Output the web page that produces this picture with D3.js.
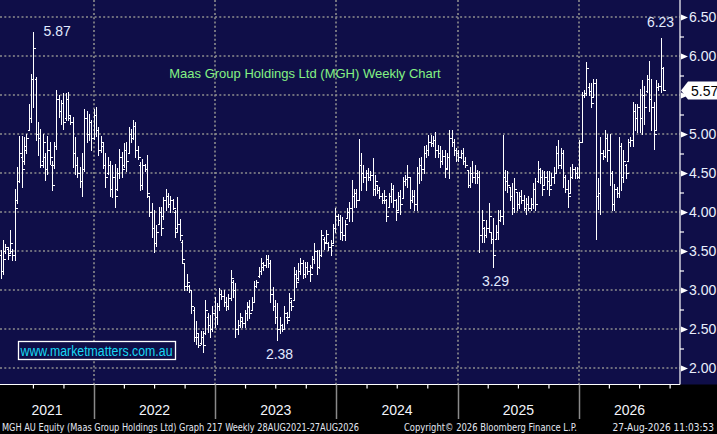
<!DOCTYPE html>
<html>
<head>
<meta charset="utf-8">
<script src="https://cdn.jsdelivr.net/npm/d3@7"></script>
<style>
  html, body { margin: 0; padding: 0; background: #000; }
  svg { display: block; }
</style>
</head>
<body>
<svg id="chart" width="717" height="434"></svg>
<script>
const firstWeek = new Date(2021, 2, 26);

// weekly bars, [open, high, low, close]
const bars2021 = [
  [3.45,3.51,3.15,3.25],[3.25,3.64,3.21,3.40],[3.50,3.59,3.47,3.55],[3.52,3.55,3.40,3.45],[3.48,3.77,3.47,3.60],
  [3.50,3.53,3.38,3.45],[3.45,4.30,3.38,4.05],[4.15,4.58,4.11,4.40],[4.40,4.98,4.38,4.75],[4.70,4.98,4.32,4.55],
  [4.65,4.96,4.62,4.85],[4.80,5.00,4.75,4.95],[5.05,5.39,5.05,5.20],[5.20,5.77,5.15,5.70],[5.70,6.31,5.35,6.10],
  [5.70,5.73,4.92,5.00],[5.00,5.15,4.73,4.95],[4.95,5.07,4.58,4.60],[4.65,5.00,4.58,4.90],[4.70,4.75,4.41,4.55],
  [4.55,4.98,4.49,4.80],[4.80,4.90,4.62,4.70],[4.60,4.66,4.28,4.35],[4.60,4.90,4.56,4.85],[4.85,5.56,4.81,5.45],
  [5.45,5.50,5.22,5.30],[5.30,5.43,5.13,5.40],[5.40,5.52,5.07,5.15],[5.20,5.52,5.18,5.45],[5.45,5.54,5.18,5.25],
  [5.20,5.24,5.13,5.15],[5.15,5.22,4.58,4.75],[4.75,4.96,4.49,4.60],[4.60,4.70,4.45,4.50],[4.50,4.58,4.32,4.40],
  [4.40,4.75,4.21,4.55],[4.55,5.32,4.53,5.20],[5.20,5.30,4.90,5.00],[5.00,5.26,4.92,5.15],[5.15,5.18,4.79,4.95]
];
const bars2022 = [
  [4.95,5.32,4.94,5.25],[5.25,5.35,4.98,5.05],[5.05,5.09,4.73,4.80],[4.80,4.98,4.77,4.90],[4.85,4.90,4.56,4.60],
  [4.60,4.75,4.32,4.45],[4.50,4.70,4.49,4.60],[4.60,4.66,4.21,4.30],[4.30,4.60,4.19,4.45],[4.45,4.62,4.06,4.20],
  [4.30,4.56,4.28,4.50],[4.50,4.81,4.43,4.70],[4.70,4.77,4.45,4.55],[4.60,4.88,4.58,4.80],[4.80,4.90,4.53,4.65],
  [4.75,5.09,4.75,5.00],[5.00,5.07,4.90,4.95],[4.95,5.18,4.94,5.10],[5.10,5.15,4.71,4.80],[4.80,4.85,4.68,4.70],
  [4.60,4.64,4.28,4.35],[4.35,4.68,4.30,4.60],[4.60,4.62,4.53,4.55],[4.55,4.73,4.19,4.25],[4.20,4.21,3.95,4.00],
  [4.00,4.11,3.68,3.80],[3.80,4.02,3.49,3.60],[3.60,3.83,3.57,3.75],[3.85,4.06,3.85,4.00],[4.00,4.06,3.70,3.80],
  [3.95,4.19,3.91,4.15],[4.15,4.30,4.02,4.20],[4.20,4.24,4.06,4.10],[4.10,4.21,4.00,4.15],[4.15,4.17,4.04,4.05],
  [4.00,4.02,3.68,3.75],[3.80,4.19,3.75,3.85],[3.85,3.91,3.64,3.70],[3.62,3.64,3.34,3.40],[3.34,3.34,3.00,3.05],
  [3.05,3.21,3.00,3.10],[3.05,3.06,2.98,3.00],[3.00,3.00,2.70,2.80],[2.75,2.78,2.35,2.40],[2.40,2.60,2.31,2.45],
  [2.40,2.44,2.27,2.30],[2.32,2.48,2.31,2.40],[2.40,2.48,2.21,2.30],[2.45,2.87,2.44,2.75],[2.65,2.70,2.46,2.55],
  [2.55,2.68,2.40,2.50],[2.50,2.80,2.48,2.70],[2.70,2.91,2.53,2.65]
];
const bars2023 = [
  [2.65,2.83,2.57,2.80],[2.80,3.02,2.74,2.95],[2.95,3.00,2.89,2.92],[2.92,3.00,2.79,2.85],[2.85,2.91,2.74,2.80],
  [2.80,2.95,2.76,2.90],[2.90,3.26,2.87,3.15],[3.10,3.13,2.91,3.00],[3.00,3.09,2.40,2.50],[2.50,2.62,2.44,2.55],
  [2.55,2.70,2.53,2.65],[2.60,2.66,2.53,2.58],[2.58,2.74,2.53,2.70],[2.70,2.85,2.62,2.80],[2.78,2.87,2.64,2.70],
  [2.75,2.91,2.74,2.85],[2.85,3.11,2.85,3.05],[3.05,3.13,3.04,3.10],[3.18,3.30,3.17,3.25],[3.25,3.41,3.21,3.35],
  [3.30,3.36,3.26,3.32],[3.32,3.45,3.30,3.40],[3.40,3.45,3.30,3.35],[3.35,3.38,2.85,2.95],[2.95,3.04,2.74,2.80],
  [2.80,2.87,2.58,2.65],[2.65,2.83,2.36,2.50],[2.50,2.66,2.45,2.55],[2.55,2.57,2.47,2.50],[2.50,2.79,2.50,2.70],
  [2.65,2.72,2.58,2.62],[2.66,2.96,2.66,2.90],[2.85,2.87,2.74,2.80],[2.87,3.30,2.87,3.20],[3.20,3.26,3.04,3.10],
  [3.15,3.34,3.13,3.25],[3.25,3.41,3.21,3.35],[3.35,3.38,3.15,3.20],[3.20,3.36,3.17,3.30],[3.30,3.36,3.21,3.25],
  [3.25,3.32,3.11,3.20],[3.30,3.43,3.28,3.40],[3.40,3.60,3.34,3.50],[3.50,3.51,3.21,3.30],[3.30,3.51,3.28,3.45],
  [3.45,3.77,3.43,3.70],[3.65,3.68,3.53,3.60],[3.62,3.77,3.60,3.72],[3.60,3.62,3.51,3.55],[3.55,3.64,3.45,3.58],
  [3.60,3.85,3.60,3.80],[3.80,4.05,3.75,3.95]
];
const bars2024 = [
  [3.95,3.98,3.83,3.90],[3.90,3.96,3.66,3.75],[3.75,3.94,3.64,3.70],[3.70,3.90,3.64,3.85],[3.92,4.05,3.92,4.00],
  [4.00,4.13,3.88,4.05],[4.05,4.41,3.88,4.20],[4.20,4.30,4.07,4.25],[4.25,4.30,4.07,4.15],[4.15,4.94,4.15,4.60],
  [4.60,4.75,4.28,4.50],[4.50,4.60,4.39,4.45],[4.45,4.54,4.28,4.50],[4.50,4.56,4.41,4.45],[4.45,4.52,4.41,4.48],
  [4.48,4.69,4.22,4.30],[4.30,4.47,4.22,4.40],[4.35,4.35,4.24,4.28],[4.28,4.32,4.18,4.20],[4.20,4.24,4.11,4.15],
  [4.15,4.28,4.11,4.20],[4.15,4.17,3.88,3.95],[4.07,4.24,4.07,4.20],[4.20,4.37,4.13,4.30],[4.30,4.35,4.07,4.15],
  [4.15,4.17,3.90,4.00],[4.03,4.26,4.03,4.20],[4.20,4.28,3.98,4.10],[4.18,4.45,4.18,4.40],[4.40,4.47,4.35,4.42],
  [4.42,4.60,4.32,4.45],[4.45,4.45,4.05,4.15],[4.15,4.28,4.13,4.20],[4.20,4.28,4.03,4.10],[4.10,4.58,4.03,4.50],
  [4.50,4.69,4.37,4.60],[4.60,4.71,4.41,4.55],[4.55,4.84,4.50,4.75],[4.75,4.86,4.71,4.80],[4.80,4.99,4.73,4.90],
  [4.90,4.99,4.84,4.88],[4.88,4.97,4.84,4.92],[4.92,5.03,4.71,4.80],[4.80,4.86,4.71,4.75],[4.75,4.84,4.58,4.65],
  [4.65,4.79,4.62,4.72],[4.72,4.79,4.45,4.55],[4.56,4.75,4.56,4.70],[4.70,5.05,4.43,4.95],[4.95,5.05,4.84,4.90],
  [4.90,4.94,4.73,4.80],[4.80,4.82,4.65,4.75],[4.75,4.80,4.65,4.70]
];
const bars2025 = [
  [4.70,4.79,4.69,4.75],[4.75,4.82,4.62,4.65],[4.65,4.71,4.58,4.60],[4.54,4.54,4.32,4.35],[4.35,4.58,4.32,4.50],
  [4.50,4.65,4.39,4.45],[4.45,4.60,4.37,4.50],[4.50,4.54,4.37,4.45],[4.45,4.52,3.49,3.70],[3.70,4.03,3.62,3.90],
  [3.80,3.81,3.62,3.70],[3.70,3.90,3.68,3.80],[3.80,4.11,3.75,3.95],[3.75,3.75,3.60,3.65],[3.65,3.92,3.30,3.45],
  [3.66,3.83,3.66,3.75],[3.75,4.03,3.66,3.90],[3.90,4.03,3.88,3.95],[3.95,4.99,3.85,4.45],[4.45,4.54,4.28,4.40],
  [4.40,4.52,4.26,4.35],[4.32,4.32,4.15,4.20],[4.20,4.37,3.98,4.05],[4.05,4.43,4.00,4.30],[4.26,4.26,4.03,4.10],
  [4.10,4.26,4.05,4.20],[4.20,4.28,4.11,4.15],[4.15,4.22,4.03,4.05],[4.05,4.18,3.98,4.10],[4.10,4.20,4.03,4.05],
  [4.05,4.18,4.03,4.10],[4.10,4.37,4.05,4.30],[4.30,4.43,4.03,4.10],[4.40,4.65,4.39,4.55],[4.55,4.56,4.37,4.45],
  [4.45,4.54,4.22,4.30],[4.35,4.52,4.35,4.45],[4.45,4.52,4.30,4.40],[4.40,4.52,4.22,4.30],[4.35,4.50,4.35,4.45],
  [4.45,4.58,4.37,4.50],[4.50,4.84,4.50,4.75],[4.75,4.92,4.56,4.60],[4.60,4.82,4.56,4.75],[4.75,4.79,4.32,4.45],
  [4.45,4.47,4.26,4.30],[4.30,4.41,4.07,4.20],[4.25,4.58,4.24,4.45],[4.45,4.62,4.43,4.55],[4.55,4.58,4.43,4.50],
  [4.50,4.58,4.43,4.45],[4.45,4.92,4.43,4.90]
];
const bars2026 = [
  [4.90,5.54,4.90,5.50],[5.50,5.56,5.47,5.52],[5.52,5.92,5.50,5.85],[5.60,5.65,5.50,5.55],[5.55,5.65,5.35,5.40],
  [5.47,5.71,5.47,5.65],[5.65,5.71,3.66,4.20],[4.20,4.43,4.04,4.25],[4.25,4.96,3.98,4.75],[4.75,4.79,4.68,4.72],
  [4.72,5.05,4.71,4.95],[4.95,5.00,4.66,4.80],[4.80,5.00,4.34,4.50],[4.50,4.53,4.02,4.10],[4.10,4.36,4.02,4.30],
  [4.30,4.32,4.19,4.25],[4.25,4.96,4.19,4.85],[4.85,4.88,4.28,4.45],[4.45,4.79,4.38,4.65],[4.60,4.62,4.43,4.50],
  [4.66,4.94,4.66,4.90],[4.90,4.96,4.85,4.92],[4.92,5.41,4.85,5.30],[5.30,5.39,5.05,5.20],[5.20,5.39,5.03,5.35],
  [5.35,5.58,5.03,5.20],[5.20,5.69,5.00,5.50],[5.50,5.62,5.13,5.35],[5.55,5.75,5.54,5.70],[5.70,5.94,5.30,5.45],
  [5.45,5.71,5.05,5.35],[5.35,5.41,4.81,5.00],[5.05,5.69,5.05,5.60],[5.60,5.65,5.56,5.62],[5.62,6.23,5.54,5.85],
  [5.85,5.86,5.57,5.57]
];

const yTicks = [2.0, 2.5, 3.0, 3.5, 4.0, 4.5, 5.0, 5.5, 6.0, 6.5];
const yMinorTicks = [2.25, 2.75, 3.25, 3.75, 4.25, 4.75, 5.25, 5.75, 6.25];
const years = [2021, 2022, 2023, 2024, 2025, 2026];

// [label, week index, 'high' | 'low']
const callouts = [
  ['5.87', 14, 'high'],
  ['2.38', 119, 'low'],
  ['3.29', 212, 'low'],
  ['6.23', 284, 'high']
];

const title = 'Maas Group Holdings Ltd (MGH) Weekly Chart';
const watermark = 'www.marketmatters.com.au';
const footer = [
  'MGH AU Equity (Maas Group Holdings Ltd) Graph 217 Weekly 28AUG2021-27AUG2026',
  'Copyright\u00a9 2026 Bloomberg Finance L.P.',
  '27-Aug-2026 11:03:53'
];

const W = 717, H = 434;
const plotRight = 680, plotBottom = 384.5;
const navy = '#0f0e48';
const gridColor = '#8d8d8d';
const sans = 'Liberation Sans, Arial, sans-serif';
const narrow = 'Liberation Sans Narrow, DejaVu Sans Condensed, sans-serif';

const bars = [].concat(bars2021, bars2022, bars2023, bars2024, bars2025, bars2026)
  .map((d, i) => ({
    date: d3.timeDay.offset(firstWeek, 7 * i),
    open: d[0], high: d[1], low: d[2], close: d[3]
  }));
const last = bars[bars.length - 1];

const x = d3.scaleTime()
  .domain([new Date(2022, 0, 1), new Date(2026, 0, 1)])
  .range([94, 579]);
const y = d3.scaleLinear().domain([2, 6.5]).range([368, 17]);

const svg = d3.select('#chart');

svg.append('rect').attr('width', W).attr('height', H).attr('fill', '#000');
svg.append('rect').attr('width', W).attr('height', plotBottom).attr('fill', navy);

// grid
const grid = svg.append('g')
  .attr('stroke', gridColor)
  .attr('stroke-width', 1.6)
  .attr('stroke-dasharray', '2,2.3');

grid.selectAll('line.h').data(yTicks).enter().append('line')
  .attr('class', 'h')
  .attr('x1', 0).attr('x2', plotRight)
  .attr('y1', d => y(d)).attr('y2', d => y(d));

const yearStarts = years.slice(1).map(yr => new Date(yr, 0, 1));
grid.selectAll('line.v').data(yearStarts).enter().append('line')
  .attr('class', 'v')
  .attr('x1', d => Math.round(x(d))).attr('x2', d => Math.round(x(d)))
  .attr('y1', 0).attr('y2', plotBottom);

// price bars
const px = d => Math.round(x(d.date)) + 0.5;
const py = v => Math.round(y(v)) + 0.5;

svg.append('g')
  .attr('stroke', '#fff')
  .attr('stroke-width', 1)
  .attr('fill', 'none')
  .attr('shape-rendering', 'crispEdges')
  .selectAll('path')
  .data(bars)
  .enter()
  .append('path')
  .attr('d', d => {
    const cx = px(d);
    return `M${cx},${py(d.high) - 0.5}V${py(d.low) + 0.5}` +
      `M${cx - 2},${py(d.open)}H${cx}` +
      `M${cx},${py(d.close)}H${cx + 2}`;
  });

// frame
svg.append('line')
  .attr('x1', plotRight).attr('x2', plotRight)
  .attr('y1', 0).attr('y2', plotBottom)
  .attr('stroke', '#fff').attr('stroke-width', 1.2);
svg.append('line')
  .attr('x1', 0).attr('x2', plotRight)
  .attr('y1', plotBottom).attr('y2', plotBottom)
  .attr('stroke', '#fff').attr('stroke-width', 1.2);

// right axis; the label under the last-price tag stays hidden
const yAxis = svg.append('g')
  .attr('transform', `translate(${plotRight},0)`)
  .call(d3.axisRight(y).tickValues(yTicks).tickSize(0).tickPadding(9)
    .tickFormat(d => Math.abs(d - last.close) < 0.15 ? '' : d3.format('.2f')(d)));
yAxis.select('.domain').remove();
yAxis.selectAll('text')
  .attr('fill', '#e9eefc')
  .attr('font-family', sans)
  .attr('font-size', 14);
yAxis.selectAll('.tick').append('path')
  .attr('d', 'M1,-3L8,0L1,3Z')
  .attr('fill', '#fff');

const yMinor = svg.append('g')
  .attr('transform', `translate(${plotRight},0)`)
  .call(d3.axisRight(y).tickValues(yMinorTicks).tickSize(4).tickFormat(''));
yMinor.select('.domain').remove();
yMinor.selectAll('line').attr('stroke', '#fff').attr('stroke-width', 1.2);

// last price tag
const tagY = y(last.close) + 1;
const tag = svg.append('g').attr('transform', `translate(0,${tagY})`);
tag.append('path')
  .attr('d', 'M681,0L688,-9H717V9H688Z')
  .attr('fill', '#fff');
tag.append('text')
  .attr('x', 691).attr('y', 5)
  .attr('fill', '#000')
  .attr('font-family', sans)
  .attr('font-size', 14)
  .text(last.close.toFixed(2));

// bottom axis
const quarterTicks = d3.timeMonth.every(3).range(new Date(2021, 3, 1), new Date(2026, 9, 2))
  .filter(d => d.getMonth() !== 0 && x(d) > 4 && x(d) < plotRight - 4);
const xAxis = svg.append('g')
  .attr('transform', `translate(0,${plotBottom})`)
  .call(d3.axisBottom(x).tickValues(quarterTicks).tickSize(4).tickFormat(''));
xAxis.select('.domain').remove();
xAxis.selectAll('line').attr('stroke', '#fff').attr('stroke-width', 1.2);

svg.append('g').selectAll('line').data(yearStarts).enter().append('line')
  .attr('x1', d => Math.round(x(d)) + 0.5).attr('x2', d => Math.round(x(d)) + 0.5)
  .attr('y1', plotBottom).attr('y2', 419)
  .attr('stroke', '#8a8a8a').attr('stroke-width', 1.5);

svg.append('g').selectAll('text').data(years).enter().append('text')
  .attr('x', yr => {
    const a = Math.max(0, x(new Date(yr, 0, 1)));
    const b = Math.min(plotRight, x(new Date(yr + 1, 0, 1)));
    return (a + b) / 2;
  })
  .attr('y', 415)
  .attr('text-anchor', 'middle')
  .attr('fill', '#f2f4fa')
  .attr('font-family', sans)
  .attr('font-size', 14)
  .text(d => d);

// footer: [anchor x, width, text-anchor]
const footerPos = [[2, 357, 'start'], [404, 173, 'start'], [714, 0, 'end']];
svg.append('g').selectAll('text').data(footer).enter().append('text')
  .attr('x', (d, i) => footerPos[i][0])
  .attr('y', 430.5)
  .attr('text-anchor', (d, i) => footerPos[i][2])
  .attr('textLength', (d, i) => footerPos[i][1] || null)
  .attr('lengthAdjust', (d, i) => footerPos[i][1] ? 'spacingAndGlyphs' : null)
  .attr('fill', '#e4e8f2')
  .attr('font-family', narrow)
  .attr('font-size', 10)
  .text(d => d);

// title
svg.append('text')
  .attr('x', 305).attr('y', 78)
  .attr('text-anchor', 'middle')
  .attr('fill', '#84f284')
  .attr('font-family', sans)
  .attr('font-size', 13)
  .text(title);

// high / low callouts
const calloutOffset = { high: [-1, -11], low: [2, 19] };
svg.append('g').selectAll('text').data(callouts).enter().append('text')
  .attr('x', d => {
    const b = bars[d[1]];
    return d[1] === 14 ? px(b) + 10 : px(b) + calloutOffset[d[2]][0];
  })
  .attr('y', d => {
    const b = bars[d[1]];
    if (d[1] === 14) return 36;
    return y(d[2] === 'high' ? b.high : b.low) + calloutOffset[d[2]][1];
  })
  .attr('text-anchor', d => d[1] === 14 ? 'start' : 'middle')
  .attr('fill', '#e2eaff')
  .attr('font-family', sans)
  .attr('font-size', 14)
  .text(d => d[0]);

// watermark
const wm = svg.append('g');
wm.append('rect')
  .attr('x', 18.5).attr('y', 341.5)
  .attr('width', 157).attr('height', 18)
  .attr('fill', navy)
  .attr('stroke', '#fff')
  .attr('stroke-width', 1.3);
wm.append('text')
  .attr('x', 20.5).attr('y', 356)
  .attr('textLength', 152)
  .attr('lengthAdjust', 'spacingAndGlyphs')
  .attr('fill', '#19d8f4')
  .attr('font-family', sans)
  .attr('font-size', 14)
  .text(watermark);
</script>
</body>
</html>
